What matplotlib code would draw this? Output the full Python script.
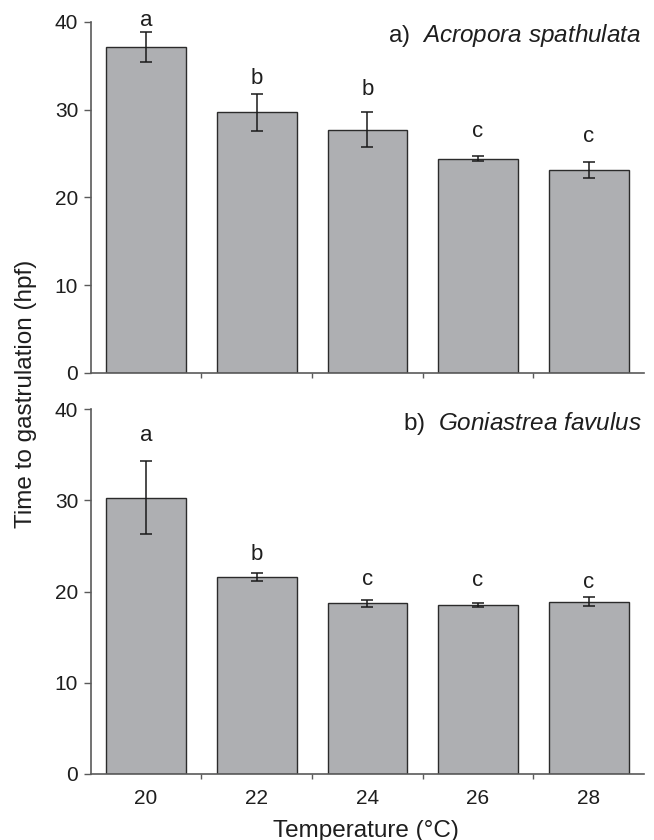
"""Time to gastrulation vs temperature, two coral species"""
import numpy as np
import matplotlib
matplotlib.use("Agg")
import matplotlib.pyplot as plt

plt.rcParams['font.family'] = ['Liberation Sans', 'DejaVu Sans']
plt.rcParams['mathtext.fontset'] = 'custom'
plt.rcParams['mathtext.rm'] = 'Liberation Sans'
plt.rcParams['mathtext.it'] = 'Liberation Sans:italic'

temps = ['20', '22', '24', '26', '28']

# a) Acropora spathulata
mean_a = [37.1, 29.7, 27.7, 24.4, 23.1]
err_a = [1.7, 2.1, 2.0, 0.3, 0.9]
letters_a = ['a', 'b', 'b', 'c', 'c']
letter_y_a = [39.5, 32.9, 31.7, 26.9, 26.3]

# b) Goniastrea favulus
mean_b = [30.3, 21.6, 18.7, 18.5, 18.9]
err_b = [4.0, 0.45, 0.35, 0.25, 0.5]
letters_b = ['a', 'b', 'c', 'c', 'c']
letter_y_b = [36.5, 23.5, 20.7, 20.6, 20.4]

bar_col = '#aeafb2'
edge_col = '#2b2b2b'
spine_col = '#5a5a5a'
txt_col = '#1e1e1e'

fig = plt.figure(figsize=(6.54, 8.4), dpi=100)
ax1 = fig.add_axes([0.1387, 0.556, 0.846, 0.418])
ax2 = fig.add_axes([0.1387, 0.0786, 0.846, 0.4344])

x = np.arange(len(temps))


def draw_panel(ax, means, errs, letters, letter_y, label, label_y):
    ax.bar(x, means, width=0.72, color=bar_col, edgecolor=edge_col, linewidth=1.0, zorder=2)
    ax.errorbar(x, means, yerr=errs, fmt='none', ecolor='#1a1a1a', elinewidth=1.1,
                capsize=4, capthick=1.1, zorder=3)
    for xi, lab, ly in zip(x, letters, letter_y):
        ax.text(xi, ly, lab, ha='center', va='baseline', fontsize=16, color=txt_col)
    ax.set_xlim(-0.5, 4.5)
    ax.set_ylim(0, 40)
    ax.set_yticks([0, 10, 20, 30, 40])
    # ticks sit between the categories, labels under the bars
    ax.set_xticks([0.5, 1.5, 2.5, 3.5])
    ax.set_xticklabels([])
    ax.set_xticks(x, minor=True)
    ax.tick_params(axis='x', which='major', direction='out', length=3.6, width=1, color=spine_col)
    ax.tick_params(axis='x', which='minor', length=0, pad=11)
    ax.tick_params(axis='y', direction='out', length=5, width=1, color=spine_col,
                   labelsize=15, labelcolor=txt_col, pad=4)
    for s in ['top', 'right']:
        ax.spines[s].set_visible(False)
    for s in ['left', 'bottom']:
        ax.spines[s].set_color(spine_col)
        ax.spines[s].set_linewidth(1.2)
    ax.text(0.995, label_y, label, transform=ax.transAxes, ha='right', va='baseline',
            fontsize=17.5, color=txt_col)


draw_panel(ax1, mean_a, err_a, letters_a, letter_y_a,
           r'a)  $\mathit{Acropora\ spathulata}$', 0.944)
draw_panel(ax2, mean_b, err_b, letters_b, letter_y_b,
           r'b)  $\mathit{Goniastrea\ favulus}$', 0.942)

ax2.set_xticklabels(temps, minor=True, fontsize=15, color=txt_col)

fig.text(0.560, 0.004, 'Temperature (°C)', ha='center', va='baseline', fontsize=17.5,
         color=txt_col)
fig.text(0.040, 0.531, 'Time to gastrulation (hpf)', rotation=90, ha='center', va='center',
         fontsize=17.5, color=txt_col)

fig.savefig('out.png', dpi=100, facecolor='white')
